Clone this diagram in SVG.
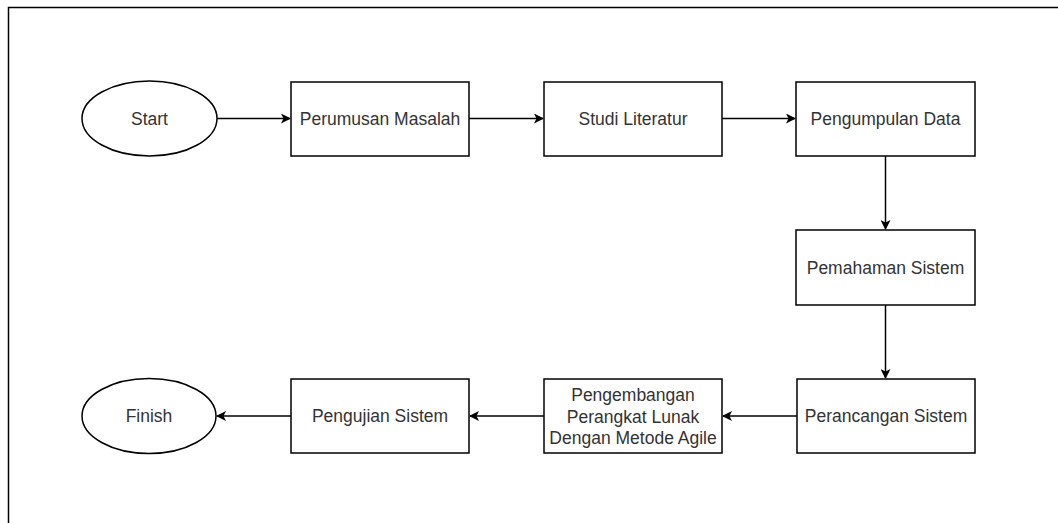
<svg xmlns="http://www.w3.org/2000/svg" width="1058" height="523" viewBox="0 0 1058 523">
<defs>
<style>
.box{fill:#fff;stroke:#000;stroke-width:1.5}
.t{font-family:"Liberation Sans",Arial,sans-serif;font-size:17.5px;fill:#333;text-anchor:middle;dominant-baseline:central}
.c{fill:none;stroke:#000;stroke-width:1.5}
</style>
<marker id="ah" viewBox="0 0 10 10" refX="9" refY="5" markerWidth="10" markerHeight="10" markerUnits="userSpaceOnUse" orient="auto">
<path d="M0,0 L10,5 L0,10 L2.5,5 Z" fill="#000"/>
</marker>
</defs>
<rect width="1058" height="523" fill="#fff"/>
<path d="M8.5,523 V7.5 H1058" fill="none" stroke="#000" stroke-width="1.5"/>
<g id="connectors">
<path class="c" d="M217,118.5 H290" marker-end="url(#ah)"/>
<path class="c" d="M469,118.5 H543" marker-end="url(#ah)"/>
<path class="c" d="M722,118.5 H795" marker-end="url(#ah)"/>
<path class="c" d="M885.5,156 V229" marker-end="url(#ah)"/>
<path class="c" d="M885.5,305 V378" marker-end="url(#ah)"/>
<path class="c" d="M797,416 H723" marker-end="url(#ah)"/>
<path class="c" d="M544,416 H470" marker-end="url(#ah)"/>
<path class="c" d="M291,416 H217" marker-end="url(#ah)"/>
</g>
<g id="start"><ellipse class="box" cx="149.5" cy="118.5" rx="67.5" ry="37.5"/><text class="t" x="149.5" y="118.5">Start</text></g>
<g id="perumusan"><rect class="box" x="291" y="82" width="178" height="74"/><text class="t" x="380" y="119">Perumusan Masalah</text></g>
<g id="studi"><rect class="box" x="544" y="82" width="178" height="74"/><text class="t" x="633" y="119">Studi Literatur</text></g>
<g id="pengumpulan"><rect class="box" x="796" y="82" width="179" height="74"/><text class="t" x="885.5" y="119">Pengumpulan Data</text></g>
<g id="pemahaman"><rect class="box" x="796" y="230" width="179" height="75"/><text class="t" x="885.5" y="267.5">Pemahaman Sistem</text></g>
<g id="perancangan"><rect class="box" x="797" y="379" width="178" height="74"/><text class="t" x="886" y="416">Perancangan Sistem</text></g>
<g id="pengembangan"><rect class="box" x="544" y="379" width="178" height="74"/><text class="t" x="633" y="395">Pengembangan</text><text class="t" x="633" y="416.5">Perangkat Lunak</text><text class="t" x="633" y="438">Dengan Metode Agile</text></g>
<g id="pengujian"><rect class="box" x="291" y="379" width="178" height="74"/><text class="t" x="380" y="416">Pengujian Sistem</text></g>
<g id="finish"><ellipse class="box" cx="149" cy="416" rx="67" ry="37.5"/><text class="t" x="149" y="416">Finish</text></g>
</svg>
